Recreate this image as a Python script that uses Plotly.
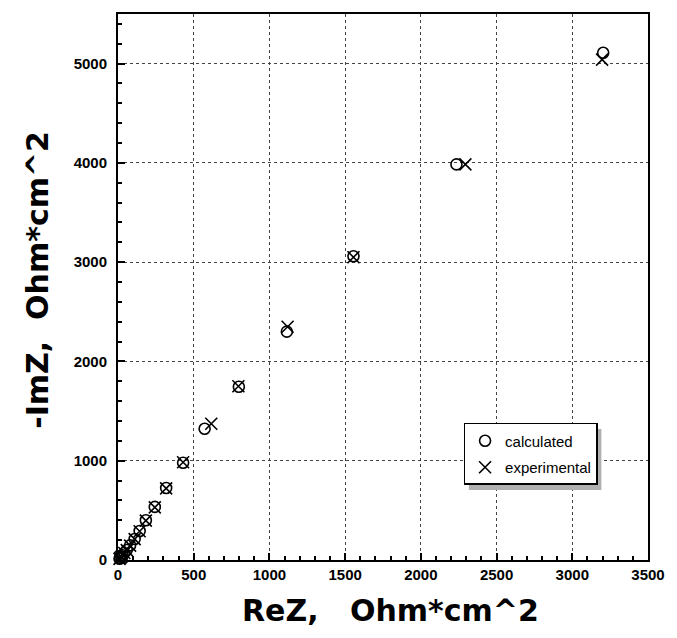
import plotly.graph_objects as go

# Experimental impedance data (Nyquist)
exp_re = [3197, 2294, 1555, 1120, 795, 616, 430, 318, 243, 184, 143, 110, 80, 58, 42, 30, 22, 15, 10]
exp_im = [5040, 3985, 3050, 2350, 1750, 1372, 985, 722, 530, 397, 290, 210, 145, 100, 70, 48, 32, 20, 12]

# Calculated (model) impedance
calc_re = [3204, 2235, 1555, 1115, 798, 572, 430, 318, 243, 184, 143, 110, 80, 58, 42, 30, 22, 15, 10]
calc_im = [5110, 3985, 3060, 2300, 1745, 1322, 980, 725, 535, 400, 292, 212, 147, 100, 70, 48, 32, 20, 12]

x_ticks = [0, 500, 1000, 1500, 2000, 2500, 3000, 3500]
y_ticks = [0, 1000, 2000, 3000, 4000, 5000]

fig = go.Figure()
fig.add_trace(go.Scatter(
    x=calc_re, y=calc_im, mode="markers", name="calculated", legendgroup="a",
    marker=dict(symbol="circle-open", size=11, color="black", line=dict(width=1.6, color="black")),
    cliponaxis=False,
))
fig.add_trace(go.Scatter(
    x=exp_re, y=exp_im, mode="markers", name="experimental", legendgroup="b",
    marker=dict(symbol="x-thin-open", size=12, color="black", line=dict(width=1.6, color="black")),
    cliponaxis=False,
))

axis_common = dict(
    showline=True, linecolor="black", linewidth=2, mirror=True,
    showgrid=True, gridcolor="#444", gridwidth=1, griddash="dot",
    zeroline=False, ticks="inside", ticklen=7, tickwidth=1.5, tickcolor="black",
    tickfont=dict(family="Liberation Sans, Arial", size=15, color="black", weight="bold"),
)

fig.update_xaxes(range=[0, 3500], tickvals=x_ticks,
                 minor=dict(dtick=100, ticks="inside", ticklen=4, tickcolor="black", showgrid=False),
                 **axis_common)
fig.update_yaxes(range=[0, 5500], tickvals=y_ticks, ticklabelstandoff=6,
                 minor=dict(dtick=200, ticks="inside", ticklen=4, tickcolor="black", showgrid=False),
                 **axis_common)

title_font = dict(family="DejaVu Sans", size=30, color="black", weight="bold")
fig.add_annotation(text="ReZ,\u00a0\u00a0\u00a0Ohm*cm^2", xref="paper", yref="paper",
                   x=0.515, y=-0.092, xanchor="center", yanchor="middle",
                   showarrow=False, font=title_font)
fig.add_annotation(text="-ImZ,\u00a0\u00a0Ohm*cm^2", xref="paper", yref="paper",
                   x=-0.152, y=0.514, xanchor="center", yanchor="middle", textangle=-90,
                   showarrow=False, font=title_font)

# legend drop shadow
fig.add_shape(type="rect", xref="paper", yref="paper",
              x0=0.662, x1=0.912, y0=0.128, y1=0.24,
              fillcolor="#b0b0b0", line=dict(width=0), layer="above")

fig.update_layout(
    width=677, height=638,
    margin=dict(l=118, r=27, t=12, b=78),
    paper_bgcolor="white", plot_bgcolor="white",
    showlegend=True,
    legend=dict(x=0.652, y=0.251, xanchor="left", yanchor="top",
                bgcolor="white", bordercolor="black", borderwidth=1.5,
                font=dict(family="Liberation Sans, Arial", size=15, color="black"),
                tracegroupgap=4, traceorder="grouped"),
)

fig.write_html("out.html")
